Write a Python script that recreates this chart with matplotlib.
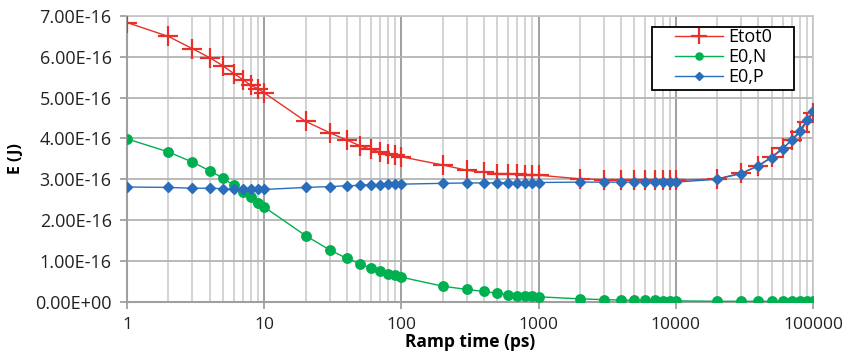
import matplotlib
matplotlib.use("Agg")
import matplotlib.pyplot as plt
from matplotlib.patches import Rectangle
from matplotlib.ticker import FixedLocator, FixedFormatter, NullFormatter, LogLocator

ramp_time = [1, 2, 3, 4, 5, 6, 7, 8, 9, 10,
             20, 30, 40, 50, 60, 70, 80, 90, 100,
             200, 300, 400, 500, 600, 700, 800, 900, 1000,
             2000, 3000, 4000, 5000, 6000, 7000, 8000, 9000, 10000,
             20000, 30000, 40000, 50000, 60000, 70000, 80000, 90000, 100000]

etot0 = [6.84, 6.50, 6.20, 5.98, 5.78, 5.59, 5.44, 5.30, 5.22, 5.12,
         4.42, 4.14, 3.96, 3.82, 3.73, 3.67, 3.63, 3.59, 3.55,
         3.35, 3.22, 3.17, 3.14, 3.13, 3.12, 3.11, 3.11, 3.10,
         3.01, 2.99, 2.99, 2.98, 2.98, 2.98, 2.98, 2.98, 2.97,
         3.01, 3.15, 3.33, 3.55, 3.76, 3.95, 4.15, 4.40, 4.62]

e0_n = [3.99, 3.67, 3.42, 3.21, 3.03, 2.85, 2.69, 2.56, 2.43, 2.32,
        1.62, 1.27, 1.06, 0.93, 0.82, 0.75, 0.69, 0.65, 0.60,
        0.38, 0.30, 0.25, 0.21, 0.17, 0.15, 0.14, 0.13, 0.12,
        0.07, 0.05, 0.04, 0.035, 0.03, 0.03, 0.025, 0.02, 0.02,
        0.01, 0.01, 0.01, 0.01, 0.01, 0.01, 0.01, 0.01, 0.01]

e0_p = [2.81, 2.80, 2.78, 2.78, 2.77, 2.76, 2.75, 2.75, 2.75, 2.75,
        2.80, 2.82, 2.84, 2.85, 2.87, 2.87, 2.88, 2.88, 2.88,
        2.90, 2.91, 2.91, 2.91, 2.92, 2.92, 2.92, 2.92, 2.92,
        2.93, 2.93, 2.93, 2.93, 2.93, 2.93, 2.93, 2.93, 2.93,
        3.00, 3.14, 3.33, 3.53, 3.74, 3.97, 4.18, 4.45, 4.67]

scale = 1e-16
y_ticks = [0, 1, 2, 3, 4, 5, 6, 7]
y_tick_labels = ["0.00E+00", "1.00E-16", "2.00E-16", "3.00E-16",
                 "4.00E-16", "5.00E-16", "6.00E-16", "7.00E-16"]
x_ticks = [1, 10, 100, 1000, 10000, 100000]
x_tick_labels = ["1", "10", "100", "1000", "10000", "100000"]

plt.rcParams['font.family'] = ['Open Sans', 'DejaVu Sans']

W, H = 850, 355
fig = plt.figure(figsize=(8.5, 3.55), dpi=100)
ax = fig.add_axes([127/W, 1 - 301.7/H, (813-127)/W, (301.7-16)/H])

red = '#e8302a'
green = '#00b050'
blue = '#2a6ebb'

ax.plot(ramp_time, [v*scale for v in etot0], color=red, lw=1.0, marker='+',
        ms=14.5, mew=1.6, label='Etot0', zorder=3)
ax.plot(ramp_time, [v*scale for v in e0_n], color=green, lw=1.0, marker='o',
        ms=6.8, mec=green, label='E0,N', zorder=4)
ax.plot(ramp_time, [v*scale for v in e0_p], color=blue, lw=1.0, marker='D',
        ms=5.6, mec=blue, label='E0,P', zorder=5)

ax.set_xscale('log')
ax.set_xlim(1, 100000)
ax.set_ylim(0, 7e-16)

ax.xaxis.set_major_locator(FixedLocator(x_ticks))
ax.xaxis.set_major_formatter(FixedFormatter(x_tick_labels))
ax.xaxis.set_minor_locator(LogLocator(base=10, subs=range(2, 10), numticks=20))
ax.xaxis.set_minor_formatter(NullFormatter())
ax.yaxis.set_major_locator(FixedLocator([v*scale for v in y_ticks]))
ax.yaxis.set_major_formatter(FixedFormatter(y_tick_labels))

ax.grid(True, which='major', axis='y', color='#b4b4b4', lw=1.3, zorder=0)
ax.grid(True, which='major', axis='x', color='#a0a0a0', lw=1.4, zorder=0)
ax.grid(True, which='minor', axis='x', color='#d0d0d0', lw=1.3, zorder=0)
ax.set_axisbelow(True)

for s in ['top', 'right']:
    ax.spines[s].set_color('#c8c8c8')
    ax.spines[s].set_linewidth(1.3)
for s in ['left', 'bottom']:
    ax.spines[s].set_color('#a0a0a0')
    ax.spines[s].set_linewidth(1.5)

ax.tick_params(axis='both', which='major', colors='#a0a0a0',
               labelcolor='#222222', length=5, width=1.3, direction='out')
ax.tick_params(axis='x', which='major', labelsize=12.5, pad=6)
ax.tick_params(axis='y', which='major', labelsize=13, pad=6)
ax.tick_params(axis='x', which='minor', length=0)

ax.set_ylabel('E (J)', fontsize=11.5, fontweight='bold', labelpad=8)
ax.set_xlabel('Ramp time (ps)', fontsize=12.5, fontweight='bold', labelpad=0)

# legend frame (Excel-style box with wide left margin)
frame = Rectangle((652/W, 1 - 90/H), (794-652)/W, (90-27)/H,
                  transform=fig.transFigure, facecolor='white',
                  edgecolor='black', lw=1.3, zorder=9)
ax.add_artist(frame)
leg = ax.legend(loc='upper left', bbox_to_anchor=(675/W, 1 - 28/H),
                bbox_transform=fig.transFigure, frameon=False,
                fontsize=13, handlelength=2.66, borderpad=0, labelspacing=0.12,
                handletextpad=0.28, borderaxespad=0)
leg.set_zorder(10)
for h in leg.legend_handles:
    h.set_markersize(h.get_markersize() * 0.75)

fig.savefig('out.png', dpi=100)
